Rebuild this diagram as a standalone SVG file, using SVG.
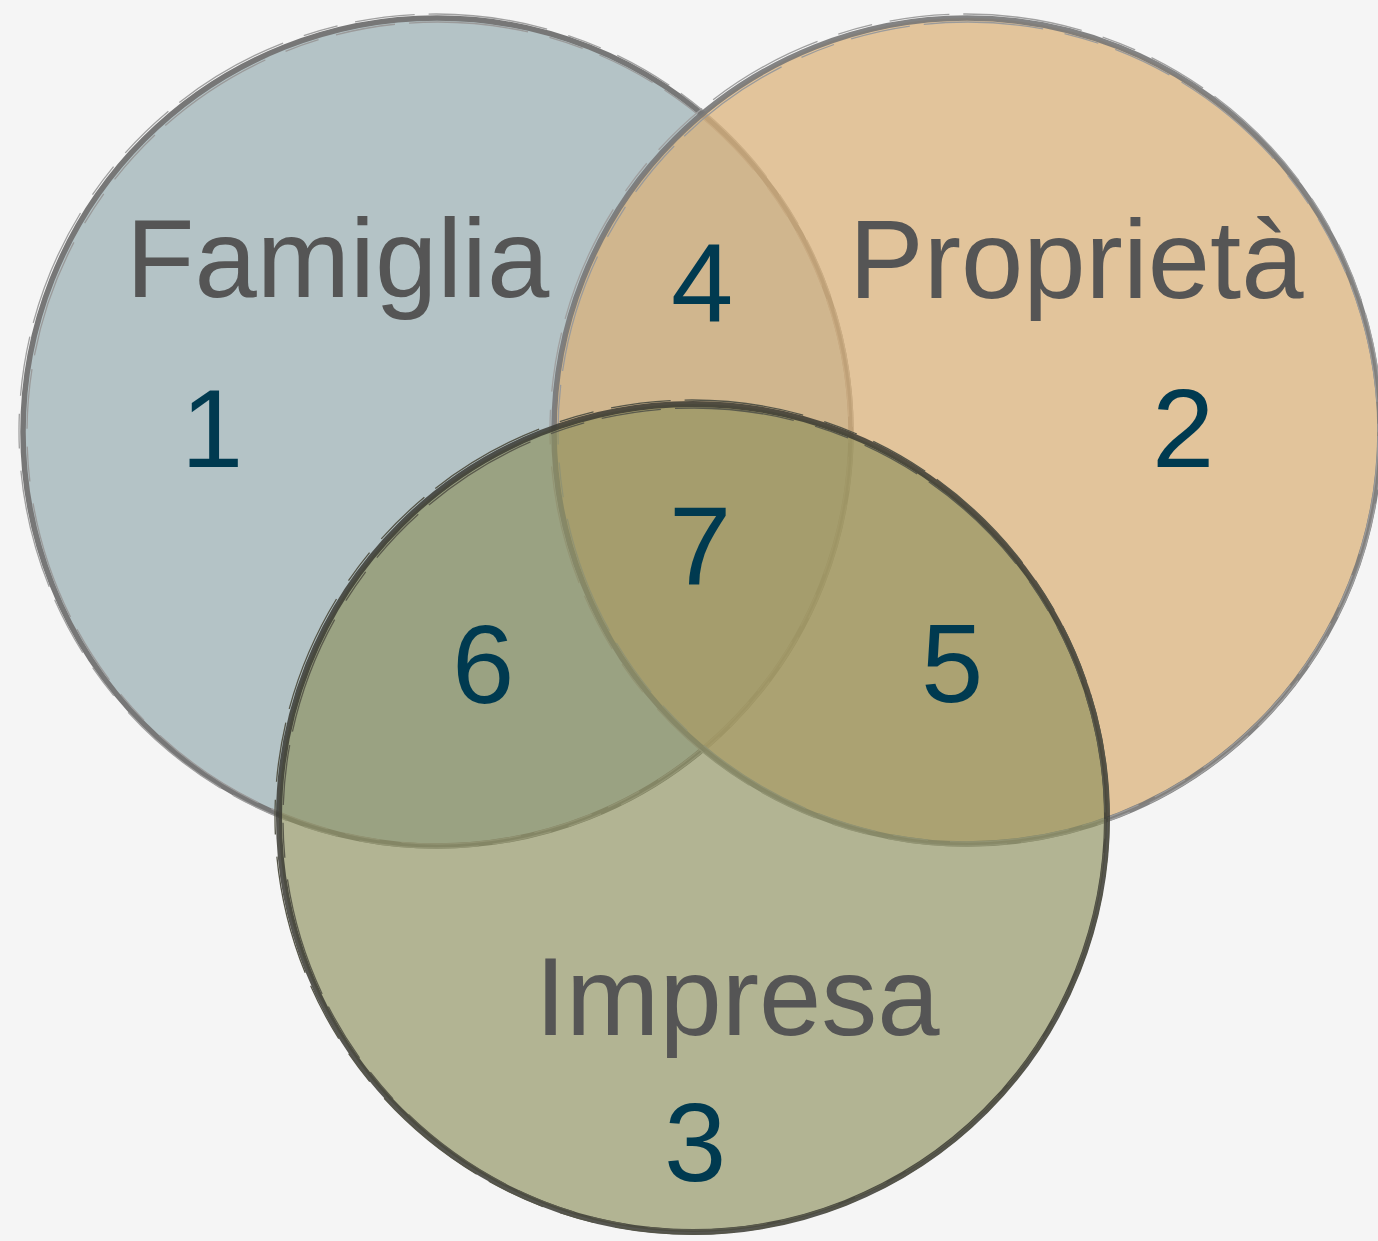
<svg xmlns="http://www.w3.org/2000/svg" width="1378" height="1241" viewBox="0 0 1378 1241">
  <style>
    .label { font-family: "Liberation Sans", Arial, sans-serif; font-size: 112px; fill: #555555; }
    .num { font-family: "Liberation Sans", Arial, sans-serif; font-size: 112px; fill: #003a50; }
    .edge12 { fill: none; stroke: #777777; stroke-width: 5.5; }
    .edge3 { fill: none; stroke: #3a3a33; stroke-width: 6; stroke-opacity: 0.85; }
    .sketch { fill: none; stroke-width: 1.3; stroke-dasharray: 60 14 120 22 35 18; }
  </style>
  <rect width="1378" height="1241" fill="#f5f5f5"/>

  <g id="famiglia">
    <circle cx="437" cy="432" r="414" fill="#b4c3c6"/>
    <circle class="edge12" cx="437" cy="432" r="414"/>
    <circle class="sketch" cx="436" cy="431" r="417" stroke="#a0a0a0"/>
    <circle class="sketch" cx="438" cy="433" r="411" stroke="#9a9a9a" stroke-dashoffset="50"/>
    <text class="label" x="126" y="297">Famiglia</text>
    <text class="num" x="181" y="467">1</text>
  </g>

  <g id="proprieta">
    <circle cx="967" cy="431" r="413" fill="#dbb178" fill-opacity="0.72"/>
    <circle class="edge12" cx="967" cy="431" r="413" stroke-opacity="0.9"/>
    <circle class="sketch" cx="966" cy="430" r="416" stroke="#a0a0a0"/>
    <circle class="sketch" cx="968" cy="432" r="410" stroke="#9a9a9a" stroke-dashoffset="70"/>
    <text class="label" x="849" y="298">Proprietà</text>
    <text class="num" x="1152" y="467">2</text>
  </g>

  <g id="impresa">
    <circle cx="693" cy="818" r="414" fill="#8b8e5b" fill-opacity="0.63"/>
    <circle class="edge3" cx="693" cy="818" r="414"/>
    <circle class="sketch" cx="692" cy="817" r="417" stroke="#555548"/>
    <circle class="sketch" cx="694" cy="819" r="411" stroke="#5a5a4c" stroke-dashoffset="40"/>
    <text class="label" x="535" y="1035">Impresa</text>
    <text class="num" x="664" y="1181">3</text>
  </g>

  <g id="intersections">
    <text class="num" x="671" y="321">4</text>
    <text class="num" x="921" y="702">5</text>
    <text class="num" x="452" y="703">6</text>
    <text class="num" x="669" y="584">7</text>
  </g>
</svg>
